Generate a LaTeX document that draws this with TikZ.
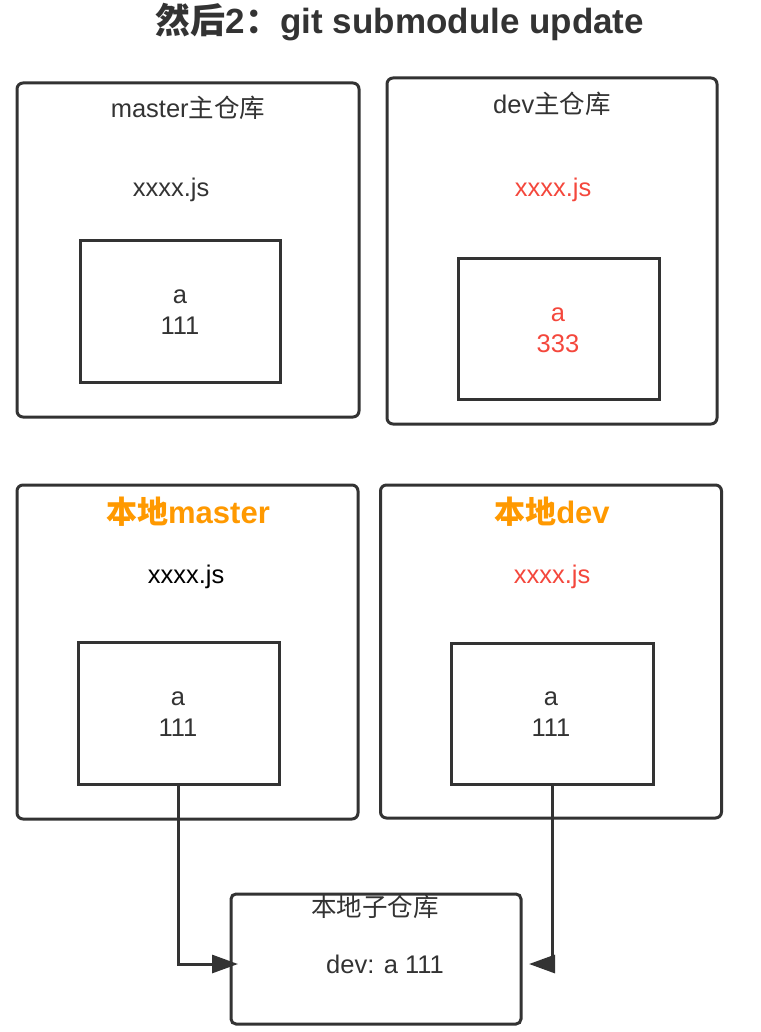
\documentclass[tikz,border=0pt]{standalone}
\usepackage{fontspec}
\setmainfont{Liberation Sans}
\newfontfamily\cjk{Noto Sans CJK SC}
\usetikzlibrary{arrows.meta}
\definecolor{ink}{HTML}{333333}
\definecolor{redtxt}{HTML}{F4473C}
\definecolor{orng}{HTML}{FF9900}
\tikzset{
  outerbox/.style={draw=ink, line width=3pt, rounded corners=6pt, inner sep=0pt},
  innerbox/.style={draw=ink, line width=3pt, inner sep=0pt},
  txt/.style={inner sep=0pt, text=ink, font=\fontsize{25.5}{31}\selectfont},
  head/.style={inner sep=0pt, text=orng, font=\fontsize{31}{35}\selectfont\bfseries},
  conn/.style={draw=ink, line width=3pt, -{Triangle[length=26pt,width=18pt]}}
}
\begin{document}
\begin{tikzpicture}[x=1pt,y=-1pt]
\useasboundingbox (0,0) rectangle (760,1032);
% title
\node[inner sep=0pt, text=ink, font=\fontsize{35}{40}\selectfont\bfseries] (title) at (400,22) {{\cjk 然后}2{\cjk ：}git submodule update};
% master main repo
\node[outerbox, minimum width=342pt, minimum height=334pt] (mo) at (188,250) {};
\node[innerbox, minimum width=200pt, minimum height=142pt] (mi) at (180,311) {};
\node[txt] (mt) at (188,108) {master{\cjk 主仓库}};
\node[txt] (mj) at (171,190) {xxxx.js};
\node[txt, align=center] (mv) at (180,312) {a\\111};
% dev main repo
\node[outerbox, minimum width=330pt, minimum height=346pt] (do) at (552,251) {};
\node[innerbox, minimum width=201pt, minimum height=141pt] (di) at (558.5,328.5) {};
\node[txt] (dt) at (552,104) {dev{\cjk 主仓库}};
\node[txt, text=redtxt] (dj) at (553,190) {xxxx.js};
\node[txt, text=redtxt, align=center] (dv) at (558,330) {a\\333};
% local master
\node[outerbox, minimum width=341pt, minimum height=334pt] (lmo) at (187.5,652) {};
\node[innerbox, minimum width=201pt, minimum height=142pt] (lmi) at (178.5,713) {};
\node[head] (lmt) at (188,512) {{\cjk 本地}master};
\node[txt, text=black] (lmj) at (186,577) {xxxx.js};
\node[txt, align=center] (lmv) at (178,714) {a\\111};
% local dev
\node[outerbox, minimum width=341pt, minimum height=333pt] (ldo) at (551,651.5) {};
\node[innerbox, minimum width=202pt, minimum height=141pt] (ldi) at (552,713.5) {};
\node[head] (ldt) at (552,512) {{\cjk 本地}dev};
\node[txt, text=redtxt] (ldj) at (552,577) {xxxx.js};
\node[txt, align=center] (ldv) at (551,714) {a\\111};
% local sub repo
\node[outerbox, rounded corners=5pt, minimum width=290pt, minimum height=130pt] (sub) at (376,959) {};
\node[txt] (st) at (375,907) {\cjk 本地子仓库};
\node[txt] (sv) at (385,964) {dev: a 111};
% connectors
\coordinate (lt) at (238,964);
\coordinate (rt) at (529,964);
\draw[conn] (lmi.south) |- (lt);
\draw[conn] (ldi.south) |- (rt);
\end{tikzpicture}
\end{document}
